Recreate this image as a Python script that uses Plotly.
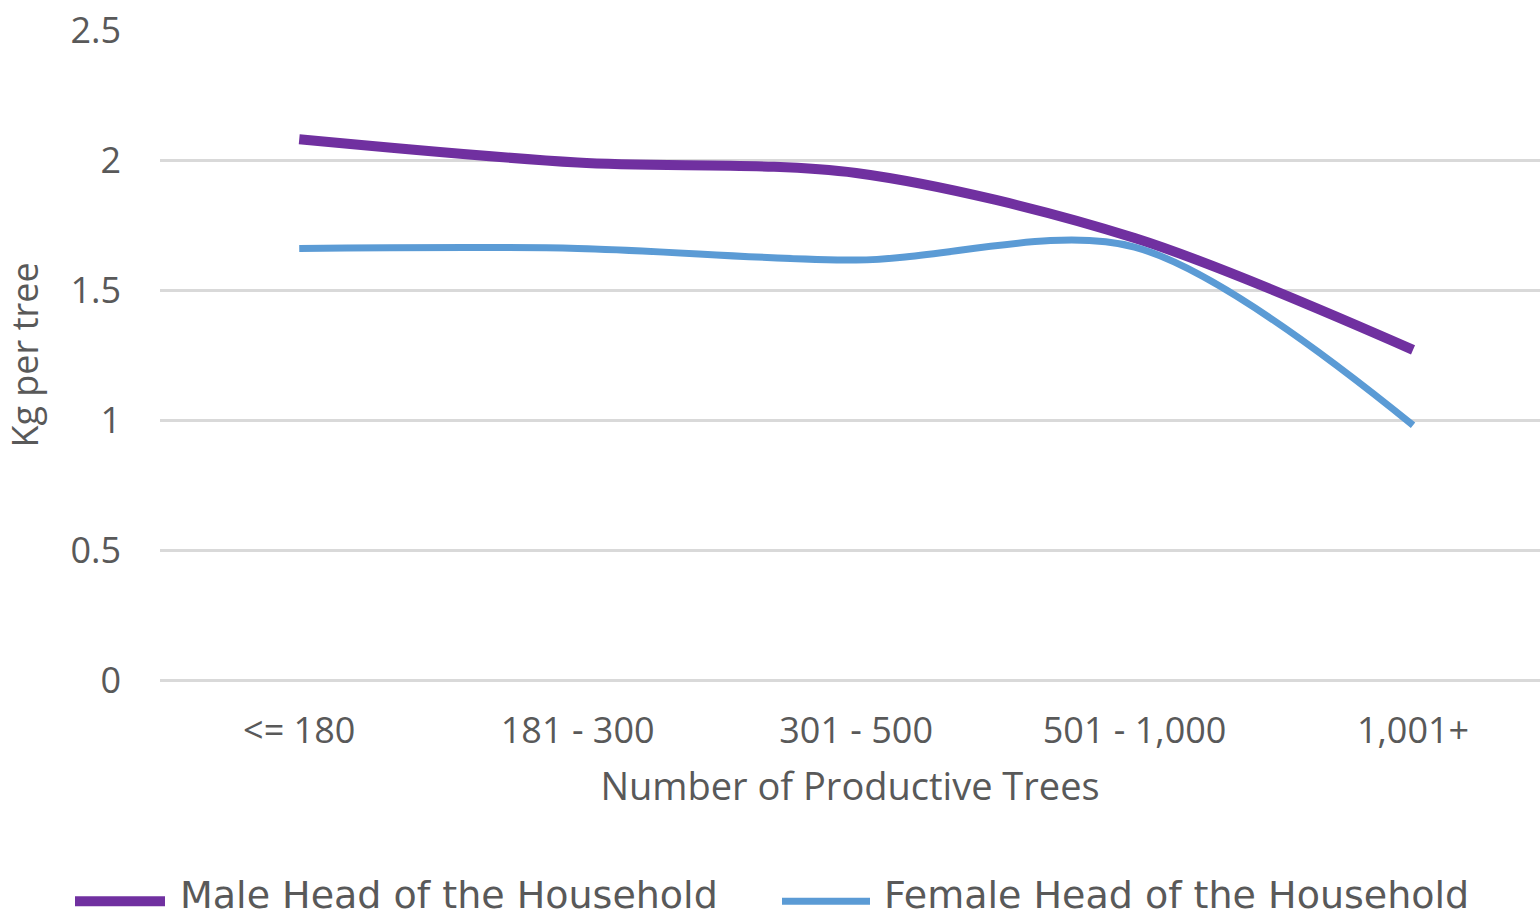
import plotly.graph_objects as go

# Yield per tree by orchard size and gender of household head
tree_groups = ["<= 180", "181 - 300", "301 - 500", "501 - 1,000", "1,001+"]
male_head = [2.08, 1.99, 1.95, 1.70, 1.27]
female_head = [1.66, 1.66, 1.615, 1.665, 0.98]

series_names = ["Male Head of the Household", "Female Head of the Household"]
series_colors = ["#7030A0", "#5B9BD5"]
series_widths = [10, 7]

y_ticks = [0, 0.5, 1, 1.5, 2, 2.5]
y_tick_text = ["0", "0.5", "1", "1.5", "2", "2.5"]

W, H = 1540, 920
ML, MT, MB = 160, 29.5, 239.5
plot_w = W - ML
plot_h = H - MT - MB

fig = go.Figure()
for name, vals, col, lw in zip(series_names, [male_head, female_head], series_colors, series_widths):
    fig.add_trace(go.Scatter(
        x=tree_groups, y=vals, name=name, mode="lines",
        line=dict(color=col, width=lw, shape="spline", smoothing=0.9),
        showlegend=False,
    ))

tick_font = dict(family="Open Sans", size=36, color="#595959")

fig.update_layout(
    width=W, height=H,
    margin=dict(l=ML, r=0, t=MT, b=MB, pad=0),
    plot_bgcolor="white", paper_bgcolor="white",
    xaxis=dict(
        type="category", range=[-0.5, 4.456],
        showgrid=False, zeroline=False, showline=False, ticks="",
        tickfont=tick_font, ticklabelstandoff=26,
        title=dict(text="Number of Productive Trees", font=dict(family="Open Sans", size=38, color="#595959"), standoff=20),
    ),
    yaxis=dict(
        range=[0, 2.5], tickvals=y_ticks, ticktext=y_tick_text,
        showgrid=True, gridcolor="#D9D9D9", gridwidth=2.5,
        zeroline=True, zerolinecolor="#D9D9D9", zerolinewidth=2.5,
        showline=False, ticks="", tickfont=tick_font, ticklabelstandoff=38,
        title=dict(text="Kg per tree", font=dict(family="Open Sans", size=36, color="#595959"), standoff=20),
    ),
)

# Legend drawn below the axis title with long line samples
def px_x(p):
    return (p - ML) / plot_w

def px_y(p):
    return (H - MB - p) / plot_h

legend_items = [(75, 165, 178), (782, 870, 882)]
legend_y = 896
for (x0, x1, tx), name, col, lw in zip(legend_items, series_names, series_colors, series_widths):
    fig.add_shape(type="line", xref="paper", yref="paper",
                  x0=px_x(x0), x1=px_x(x1), y0=px_y(legend_y + 6), y1=px_y(legend_y + 6),
                  line=dict(color=col, width=lw), layer="above")
    fig.add_annotation(xref="paper", yref="paper", x=px_x(tx), y=px_y(legend_y),
                       text=name, showarrow=False, xanchor="left", yanchor="middle",
                       font=dict(family="DejaVu Sans", size=38, color="#595959"))

fig.write_html("out.html")
